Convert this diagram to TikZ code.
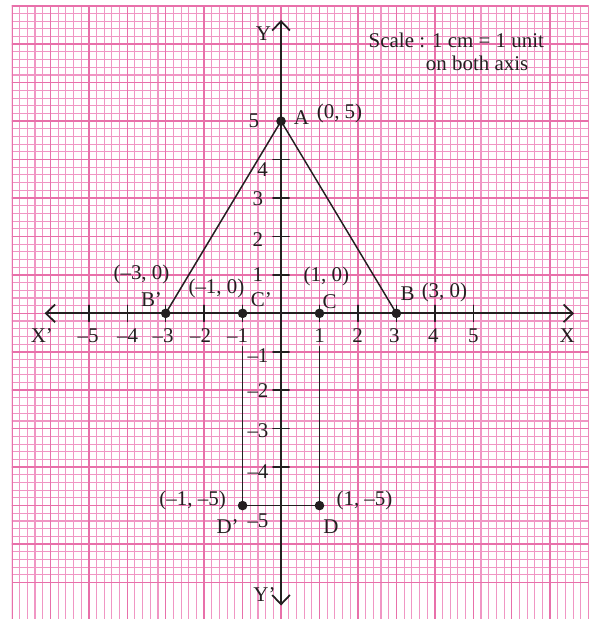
\documentclass[tikz,border=0pt]{standalone}
\usepackage{fontspec}
\setmainfont{Liberation Serif}
\usetikzlibrary{arrows.meta}
\definecolor{gridminor}{RGB}{240,150,196}
\definecolor{gridmajor}{RGB}{232,112,170}
\definecolor{ink}{RGB}{35,31,32}
\begin{document}
\begin{tikzpicture}[scale=1, font=\fontsize{15.5}{17}\selectfont, line join=round, line cap=round, >={Straight Barb[length=2.4mm,width=4.6mm]}, x=1cm, y=1cm]
    \def\xt{-7} \def\xp{8} \def\yt{8} \def\yd{-8}
					\tikzset{lab/.style={text=ink, inner sep=0pt}, side/.style={ink, line width=1.1pt}}
					\useasboundingbox (-7.31,-7.95) rectangle (7.99,8.15);
					% graph paper
					\begin{scope}
						\clip (\xt,-7.95) rectangle (\xp,\yt);
						\foreach \k in {-35,...,40}
						\draw[gridminor, line width=0.8pt] (\k/5,\yd)--(\k/5,\yt) (\xt,\k/5)--(\xp,\k/5);
						\foreach \k in {-7,...,8}
						\draw[gridmajor, line width=1.1pt] (\k,\yd)--(\k,\yt) (\xt,\k)--(\xp,\k);
					\end{scope}
					% axes
					\coordinate (Xl) at (-6.15,0); \coordinate (Xr) at (7.62,0);
					\coordinate (Yt) at (0,7.63); \coordinate (Yb) at (0,-7.6);
					\draw[<->, ink, line width=1.3pt] (Xl)--(Xr);
					\draw[<->, ink, line width=1.3pt] (Yb)--(Yt);
					\foreach \x in {-5,-4,-3,-2,-1,1,2,3,4,5}
					\draw[ink, line width=1.1pt] (\x,-0.21)--(\x,0.21);
					\foreach \y in {-4,-3,-2,-1,1,2,3,4}
					\draw[ink, line width=1.1pt] (-0.21,\y)--(0.21,\y);
					\node[lab] (xx) at (-6.22,-0.57) {X'};
					\node[lab] (x) at (7.44,-0.57) {X};
					\node[lab] (yy) at (-0.43,-7.32) {Y'};
					\node[lab] (y) at (-0.46,7.28) {Y};
					\foreach \diem/\name in {-5.02/--5, -3.99/--4, -3.07/--3, -2.09/--2, -1.13/--1, 1/1, 1.99/2, 2.95/3, 3.96/4, 5/5}
					\node[lab] at (\diem,-0.57) {\name};
					\foreach \diem/\name in {(-0.71,5)/5, (-0.48,3.73)/4, (-0.6,2.97)/3, (-0.6,1.93)/2, (-0.6,1)/1, (-0.6,-1.09)/--1, (-0.6,-2)/--2, (-0.6,-3.06)/--3, (-0.6,-4.12)/--4, (-0.6,-5.4)/--5}
					\node[lab] at \diem {\name};
					% points
					\coordinate (A) at (0,5); \coordinate (B) at (3,0); \coordinate (Bp) at (-3,0);
					\coordinate (C) at (1,0); \coordinate (Cp) at (-1,0);
					\coordinate (D) at (1,-5); \coordinate (Dp) at (-1,-5);
					\coordinate (Cl) at (1,-0.87); \coordinate (Cpl) at (-1,-0.87);
					\draw[side] (Bp)--(A)--(B);
					\draw[side] (Cpl)--(Dp)--(D)--(Cl);
					\foreach \p in {A,B,Bp,C,Cp,D,Dp}
					\fill[ink] (\p) circle(0.125);
					\foreach \diem/\name in {(0.53,5.08)/A, (1.52,5.2)/{(0, 5)}, (3.29,0.5)/B, (4.25,0.55)/{(3, 0)}, (1.26,0.3)/C, (1.18,0.97)/{(1, 0)}, (-3.37,0.35)/B', (-3.63,1)/{(--3, 0)}, (-0.51,0.35)/C', (-1.68,0.65)/{(--1, 0)}, (-2.3,-4.86)/{(--1, --5)}, (-1.39,-5.55)/D', (2.17,-4.86)/{(1, --5)}, (1.3,-5.55)/D}
					\node[lab] at \diem {\name};
					\node[lab] (scale) at (4.56,7.11) {Scale : 1 cm = 1 unit};
					\node[lab] (axis) at (5.1,6.51) {on both axis};
    \end{tikzpicture}
\end{document}
